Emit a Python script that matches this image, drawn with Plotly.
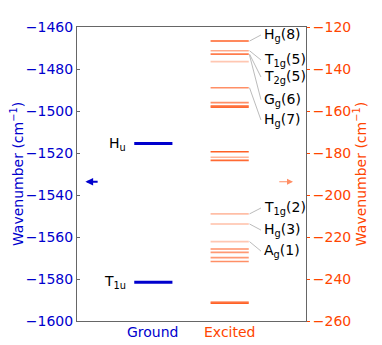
import plotly.graph_objects as go

# ---- data ----
ground_levels = [-1515.5, -1581.5]
ground_labels = ["H<sub>u</sub>", "T<sub>1u</sub>"]

excited_levels = [-126.7, -131.3, -132.9, -136.5, -148.9, -156.0, -157.6, -158.2,
                  -179.4, -182.0, -183.5, -209.0, -213.8, -222.2, -225.7, -227.3,
                  -229.8, -231.7, -250.9, -251.5]
excited_alpha = [0.85, 0.45, 0.7, 0.3, 0.6, 0.6, 0.8, 0.8,
                 0.85, 0.4, 0.8, 0.35, 0.35, 0.3, 0.6, 0.55,
                 0.55, 0.6, 0.45, 0.85]

label_texts = ["H<sub>g</sub>(8)", "T<sub>1g</sub>(5)", "T<sub>2g</sub>(5)", "G<sub>g</sub>(6)",
               "H<sub>g</sub>(7)", "T<sub>1g</sub>(2)", "H<sub>g</sub>(3)", "A<sub>g</sub>(1)"]
label_from = [-126.7, -131.3, -132.9, -133.4, -148.9, -209.0, -213.8, -222.2]
label_at = [-123.8, -135.7, -143.8, -154.6, -164.3, -206.2, -216.7, -226.7]

ground_arrow = -1533.7
excited_arrow = -193.7

categories = ["Ground", "Excited"]

BLUE = "#0000CD"
ORANGE = "#FF4500"
FONT = "DejaVu Sans"

fig = go.Figure()

for lvl in ground_levels:
    fig.add_trace(go.Scatter(x=[0.75, 1.25], y=[lvl, lvl], mode="lines",
                             line=dict(color=BLUE, width=3), yaxis="y",
                             showlegend=False, hoverinfo="skip"))
for lvl, txt in zip(ground_levels, ground_labels):
    fig.add_annotation(x=0.67, y=lvl, xref="x", yref="y", text=txt, showarrow=False,
                       xanchor="right", yanchor="middle",
                       font=dict(family=FONT, size=14, color="black"))

for lvl, a in zip(excited_levels, excited_alpha):
    fig.add_trace(go.Scatter(x=[1.75, 2.25], y=[lvl, lvl], mode="lines",
                             line=dict(color=f"rgba(255,69,0,{a})", width=1.6),
                             yaxis="y2", showlegend=False, hoverinfo="skip"))

for txt, y0, y1 in zip(label_texts, label_from, label_at):
    fig.add_trace(go.Scatter(x=[2.26, 2.41], y=[y0, y1], mode="lines",
                             line=dict(color="#aaaaaa", width=0.8), yaxis="y2",
                             showlegend=False, hoverinfo="skip"))
    fig.add_annotation(x=2.43, y=y1, xref="x", yref="y2", text=txt, showarrow=False,
                       xanchor="left", yanchor="middle",
                       font=dict(family=FONT, size=14, color="black"))

# arrows
fig.add_annotation(x=0.11, y=ground_arrow, ax=0.29, ay=ground_arrow, xref="x", yref="y",
                   axref="x", ayref="y", text="", showarrow=True, arrowhead=2,
                   arrowsize=0.7, arrowwidth=2.2, arrowcolor=BLUE)
fig.add_annotation(x=2.83, y=excited_arrow, ax=2.63, ay=excited_arrow, xref="x", yref="y2",
                   axref="x", ayref="y2", text="", showarrow=True, arrowhead=2,
                   arrowsize=1, arrowwidth=1.2, arrowcolor="rgba(255,69,0,0.6)")

# category labels
for i, (cat, col) in enumerate(zip(categories, [BLUE, ORANGE])):
    fig.add_annotation(x=i + 1, y=0, xref="x", yref="paper", yshift=-1, text=cat,
                       showarrow=False, xanchor="center", yanchor="top",
                       font=dict(family=FONT, size=14, color=col))

# page body has an 8px default margin, so the figure is offset by 8px
fig.update_layout(
    width=374, height=337,
    margin=dict(l=69, r=76, t=19, b=24, autoexpand=False),
    plot_bgcolor="white", paper_bgcolor="white",
    font=dict(family=FONT, size=14),
    xaxis=dict(range=[0, 3], showticklabels=False, ticks="", showgrid=False, automargin=False,
               zeroline=False, showline=True, mirror=True, linecolor="#666666", linewidth=1),
    yaxis=dict(range=[-1600, -1460], dtick=20, tick0=-1600, showgrid=False, zeroline=False,
               automargin=False,
               showline=True, mirror=True, linecolor="#666666", linewidth=1,
               ticks="inside", ticklen=3, tickcolor="#666666",
               tickfont=dict(family=FONT, size=14, color=BLUE),
               title=dict(text="Wavenumber (cm<sup>−1</sup>)", standoff=9,
                          font=dict(family=FONT, size=14, color=BLUE))),
    yaxis2=dict(range=[-260, -120], dtick=20, tick0=-260, overlaying="y", side="right",
                showgrid=False, zeroline=False, showline=False, automargin=False,
                ticks="outside", ticklen=3, tickcolor=ORANGE,
                tickfont=dict(family=FONT, size=14, color=ORANGE),
                title=dict(text="Wavenumber (cm<sup>−1</sup>)", standoff=0,
                           font=dict(family=FONT, size=14, color=ORANGE))),
)

fig.write_html("out.html")
